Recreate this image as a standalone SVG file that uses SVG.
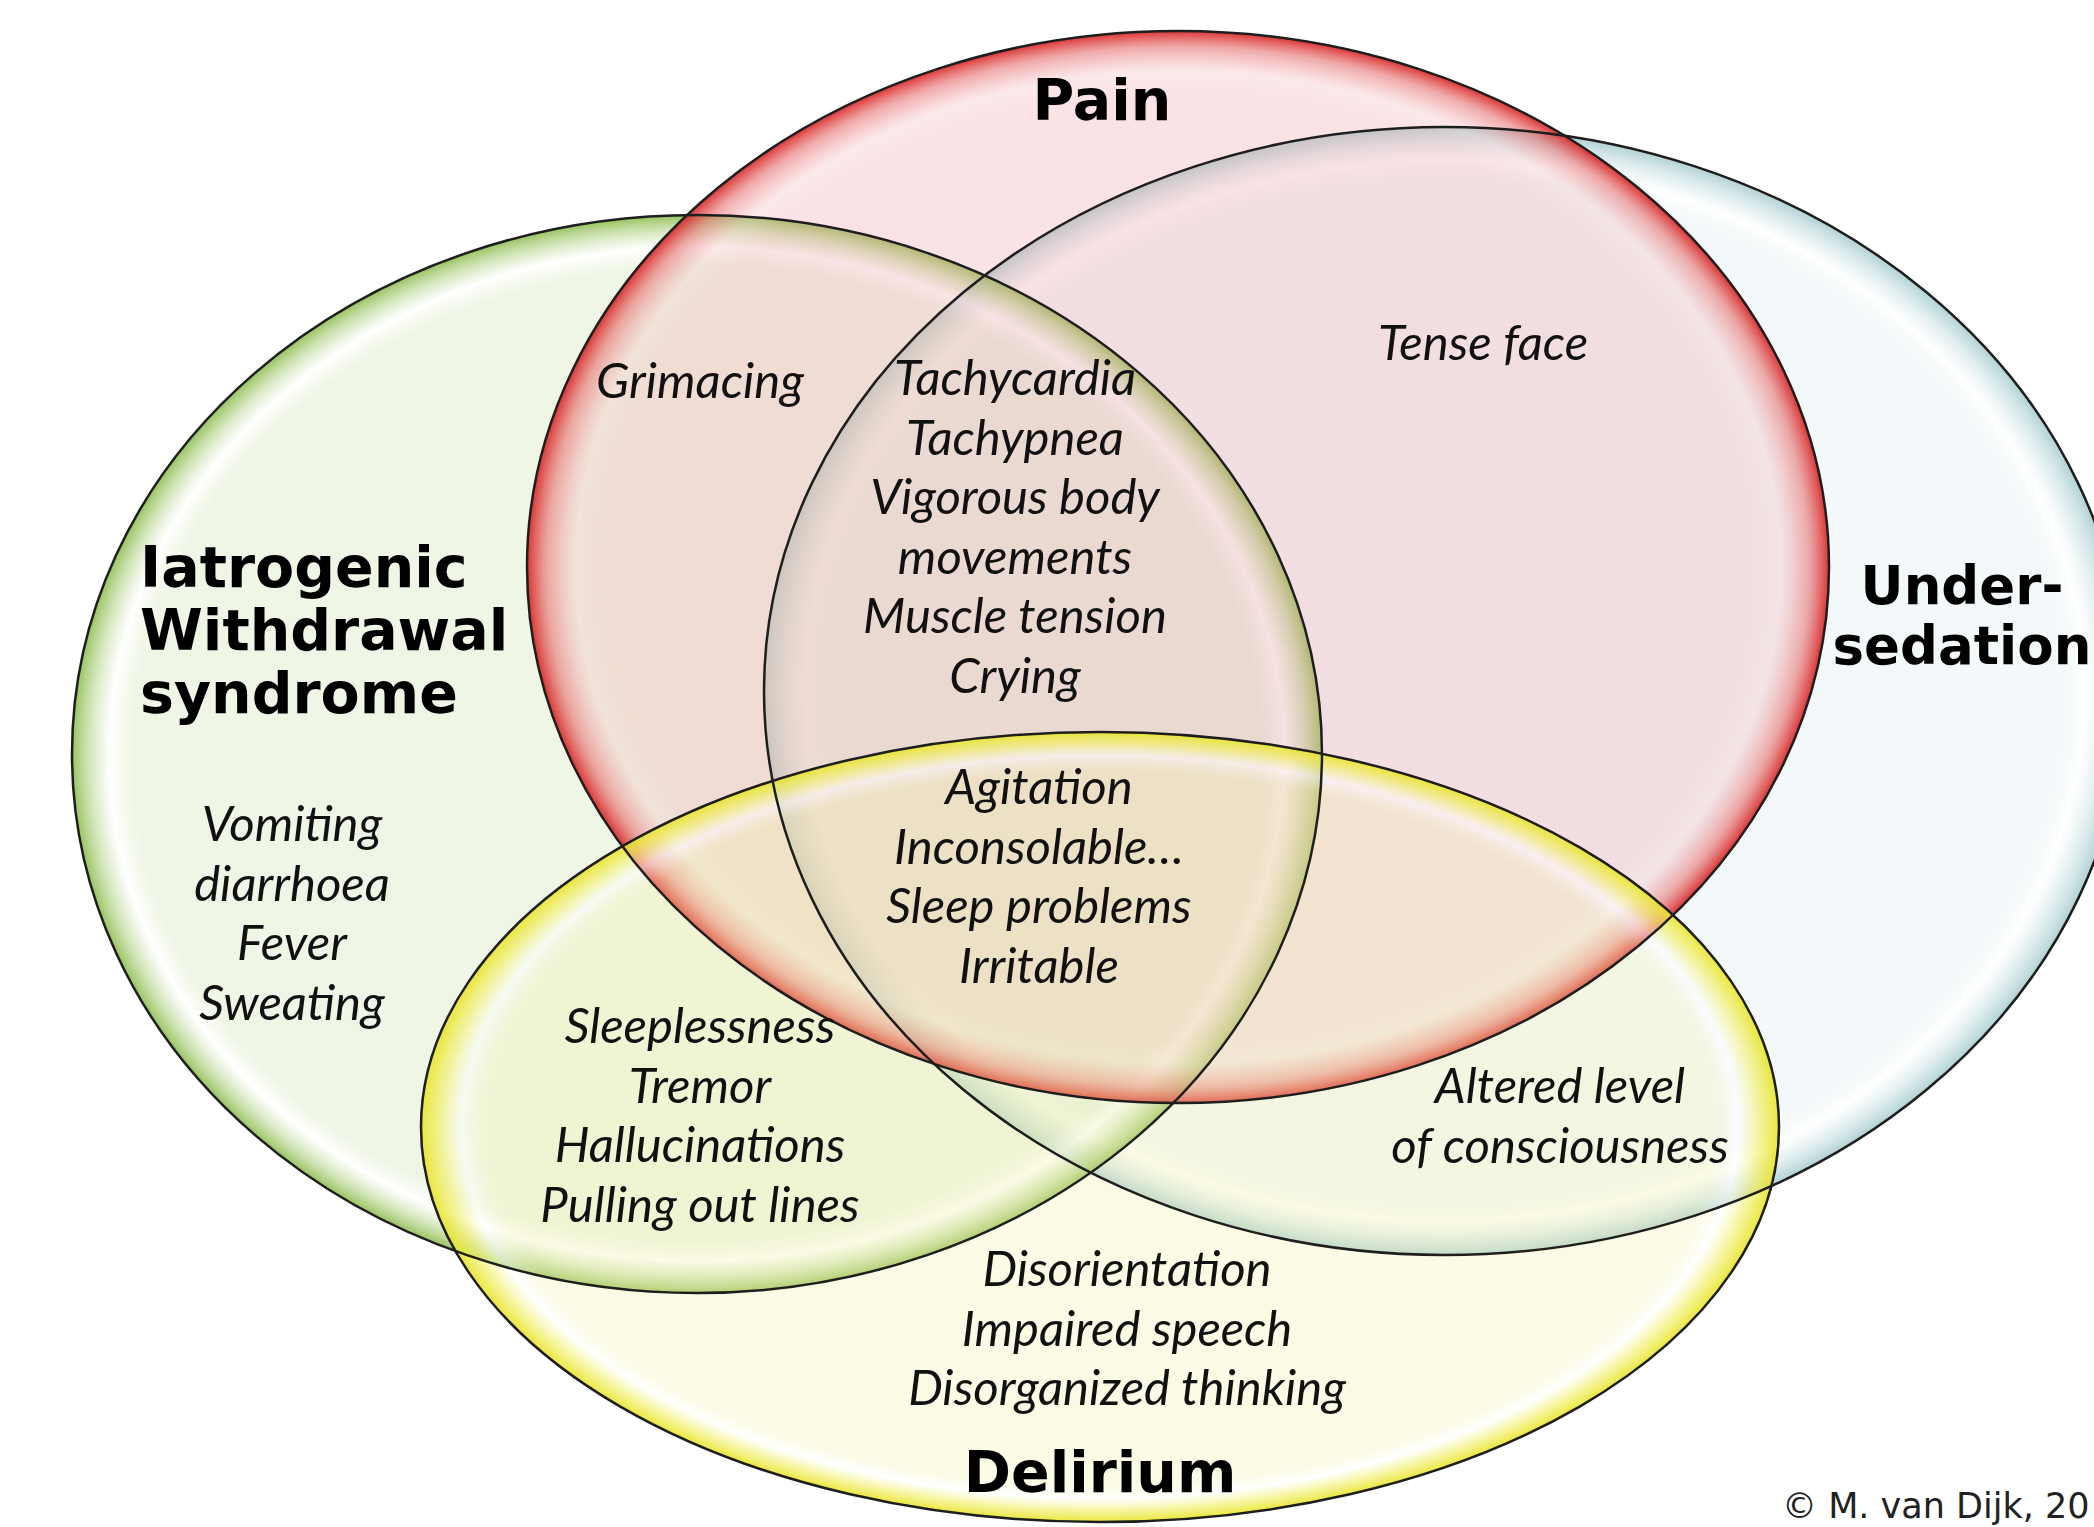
<svg xmlns="http://www.w3.org/2000/svg" width="2094" height="1527" viewBox="0 0 2094 1527">
<defs>
<radialGradient id="gRed">
<stop offset="0" stop-color="#f0a0a8" stop-opacity="0.3"/>
<stop offset="0.88" stop-color="#f0a0a8" stop-opacity="0.3"/>
<stop offset="0.925" stop-color="#f4c0c4" stop-opacity="0.35"/>
<stop offset="0.97" stop-color="#e67070" stop-opacity="0.6"/>
<stop offset="1" stop-color="#d82424" stop-opacity="0.92"/>
</radialGradient>
<radialGradient id="gGreen">
<stop offset="0" stop-color="#cfe2b0" stop-opacity="0.32"/>
<stop offset="0.9" stop-color="#cfe2b0" stop-opacity="0.32"/>
<stop offset="0.94" stop-color="#ffffff" stop-opacity="0.5"/>
<stop offset="0.97" stop-color="#bcd896" stop-opacity="0.6"/>
<stop offset="1" stop-color="#8cbc4c" stop-opacity="0.9"/>
</radialGradient>
<radialGradient id="gBlue">
<stop offset="0" stop-color="#d4e8ec" stop-opacity="0.28"/>
<stop offset="0.9" stop-color="#d4e8ec" stop-opacity="0.28"/>
<stop offset="0.94" stop-color="#ffffff" stop-opacity="0.5"/>
<stop offset="0.97" stop-color="#cce2e4" stop-opacity="0.6"/>
<stop offset="1" stop-color="#a8ccd0" stop-opacity="0.9"/>
</radialGradient>
<radialGradient id="gYellow">
<stop offset="0" stop-color="#f2f0a8" stop-opacity="0.3"/>
<stop offset="0.9" stop-color="#f2f0a8" stop-opacity="0.3"/>
<stop offset="0.94" stop-color="#ffffff" stop-opacity="0.5"/>
<stop offset="0.97" stop-color="#f2f070" stop-opacity="0.65"/>
<stop offset="1" stop-color="#e8e428" stop-opacity="0.92"/>
</radialGradient>
<style>
.outline{fill:none;stroke:#1e1e1e;stroke-width:2.5}
.title{font-family:"DejaVu Sans",Verdana,sans-serif;font-weight:bold;font-size:57px;fill:#000}
.title.side{font-size:53px;text-anchor:middle}
.item{font-family:Lato,"Open Sans",sans-serif;font-style:italic;font-size:49px;fill:#111;text-anchor:middle}
.copy{font-family:"DejaVu Sans",Verdana,sans-serif;font-size:35px;fill:#222}
</style>
</defs>
<rect width="2094" height="1527" fill="#ffffff"/>
<g id="circles">
<g id="undersedation"><ellipse cx="1445" cy="691" rx="681" ry="564" fill="url(#gBlue)"/></g>
<g id="withdrawal"><ellipse cx="697" cy="754" rx="625" ry="539" fill="url(#gGreen)"/></g>
<g id="pain"><ellipse cx="1178" cy="567" rx="651" ry="536" fill="url(#gRed)"/></g>
<g id="delirium"><ellipse cx="1100" cy="1127" rx="679" ry="395" fill="url(#gYellow)"/></g>
</g>
<g id="outlines">
<ellipse class="outline" cx="697" cy="754" rx="625" ry="539"/>
<ellipse class="outline" cx="1178" cy="567" rx="651" ry="536"/>
<ellipse class="outline" cx="1445" cy="691" rx="681" ry="564"/>
<ellipse class="outline" cx="1100" cy="1127" rx="679" ry="395"/>
</g>
<g id="titles">
<text class="title" x="1102" y="120" text-anchor="middle">Pain</text>
<text class="title" x="140" y="587">Iatrogenic</text>
<text class="title" x="140" y="650">Withdrawal</text>
<text class="title" x="140" y="713">syndrome</text>
<text class="title side" x="1962" y="604">Under-</text>
<text class="title side" x="1962" y="664">sedation</text>
<text class="title" x="1100" y="1492" text-anchor="middle">Delirium</text>
</g>
<g id="items">
<text class="item" x="700" y="398">Grimacing</text>
<text class="item" x="1015" y="395">Tachycardia</text>
<text class="item" x="1015" y="455">Tachypnea</text>
<text class="item" x="1015" y="514">Vigorous body</text>
<text class="item" x="1015" y="574">movements</text>
<text class="item" x="1015" y="633">Muscle tension</text>
<text class="item" x="1015" y="693">Crying</text>
<text class="item" x="1483" y="360">Tense face</text>
<text class="item" x="1039" y="804">Agitation</text>
<text class="item" x="1039" y="864">Inconsolable…</text>
<text class="item" x="1039" y="923">Sleep problems</text>
<text class="item" x="1039" y="983">Irritable</text>
<text class="item" x="292" y="841">Vomiting</text>
<text class="item" x="292" y="901">diarrhoea</text>
<text class="item" x="292" y="960">Fever</text>
<text class="item" x="292" y="1020">Sweating</text>
<text class="item" x="700" y="1043">Sleeplessness</text>
<text class="item" x="700" y="1103">Tremor</text>
<text class="item" x="700" y="1162">Hallucinations</text>
<text class="item" x="700" y="1222">Pulling out lines</text>
<text class="item" x="1560" y="1103">Altered level</text>
<text class="item" x="1560" y="1163">of consciousness</text>
<text class="item" x="1127" y="1286">Disorientation</text>
<text class="item" x="1127" y="1346">Impaired speech</text>
<text class="item" x="1127" y="1405">Disorganized thinking</text>
</g>
<text class="copy" x="1782" y="1518">© M. van Dijk, 20</text>
</svg>
